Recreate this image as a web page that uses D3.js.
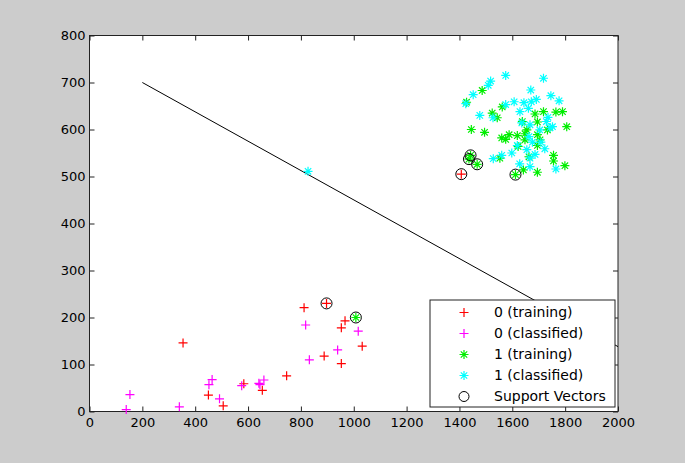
<!DOCTYPE html>
<html lang="en">
<head>
  <meta charset="UTF-8">
  <title>SVM classification</title>
  <style>
    html, body { margin: 0; padding: 0; background: #cccccc; }
    svg { display: block; }
    text { font-family: "DejaVu Sans", sans-serif; fill: #000; }
  </style>
</head>
<body>
  <script src="https://d3js.org/d3.v7.min.js"></script>
  <script>
    const width = 685, height = 463;

    // data
    const train0 = [[354,146],[450,35],[506,12],[584,59],[654,45],[746,76],[812,221],[897,230],
      [967,193],[953,178],[1032,139],[888,118],[953,102],[1407,505]];
    const class0 = [[153,36],[139,4],[340,10],[464,68],[452,57],[492,27],[576,55],[641,60],
      [660,67],[645,57],[818,184],[1017,171],[939,131],[832,110]];
    const train1 = [[1486,683],[1427,658],[1562,648],[1524,635],[1543,625],[1686,633],[1718,638],
      [1765,637],[1790,638],[1638,617],[1695,616],[1445,600],[1495,594],[1806,606],[1655,599],
      [1733,599],[1588,589],[1560,582],[1575,579],[1619,587],[1648,591],[1695,589],[1648,578],
      [1705,578],[1622,564],[1695,566],[1553,539],[1663,542],[1756,545],[1756,533],[1799,523],
      [1695,509],[1642,514],[1442,545],[1436,537],[1467,526],[1612,504],[1008,200]];
    const class1 = [[1575,715],[1718,709],[1518,703],[1509,694],[1452,674],[1670,684],[1424,655],
      [1746,672],[1777,661],[1607,659],[1644,657],[1672,659],[1691,664],[1575,653],[1661,645],
      [1629,638],[1477,630],[1527,625],[1636,614],[1735,626],[1729,617],[1667,610],[1743,604],
      [1752,606],[1704,599],[1663,585],[1676,573],[1708,573],[1619,566],[1723,559],[1655,557],
      [1598,550],[1686,547],[1560,545],[1528,538],[1667,539],[1628,527],[1667,521],[1765,516],
      [827,511]];
    const supportVectors = [[897,230],[1008,200],[1407,505],[1442,545],[1436,537],[1467,526],[1612,504]];
    const boundary = [[200,700],[2000,138]];

    const legendLabels = ["0 (training)", "0 (classified)", "1 (training)", "1 (classified)", "Support Vectors"];
    const xTicks = d3.range(0, 2001, 200);
    const yTicks = d3.range(0, 801, 100);

    const svg = d3.select("body").append("svg")
      .attr("width", width)
      .attr("height", height);

    const x = d3.scaleLinear().domain([0, 2000]).range([89.5, 618]);
    const y = d3.scaleLinear().domain([0, 800]).range([411.5, 35.5]);

    // plot area
    svg.append("rect")
      .attr("x", x(0)).attr("y", y(800))
      .attr("width", x(2000) - x(0)).attr("height", y(0) - y(800))
      .attr("fill", "#fff");

    // axes with inward ticks on all four sides
    const fmt = d3.format("d");
    const tickStyle = g => {
      g.select(".domain").remove();
      g.selectAll("line").attr("stroke", "#222");
      g.selectAll("text").attr("font-size", 13).attr("font-family", "DejaVu Sans, sans-serif").attr("fill", "#000");
    };
    svg.append("g").attr("transform", `translate(0,${y(0)})`)
      .call(d3.axisBottom(x).tickValues(xTicks).tickFormat(fmt).tickSize(-5).tickPadding(6)).call(tickStyle);
    svg.append("g").attr("transform", `translate(0,${y(800)})`)
      .call(d3.axisTop(x).tickValues(xTicks).tickSize(-5).tickFormat("")).call(tickStyle);
    svg.append("g").attr("transform", `translate(${x(0)},0)`)
      .call(d3.axisLeft(y).tickValues(yTicks).tickFormat(fmt).tickSize(-5).tickPadding(4)).call(tickStyle);
    svg.append("g").attr("transform", `translate(${x(2000)},0)`)
      .call(d3.axisRight(y).tickValues(yTicks).tickSize(-5).tickFormat("")).call(tickStyle);

    svg.append("rect")
      .attr("x", x(0)).attr("y", y(800))
      .attr("width", x(2000) - x(0)).attr("height", y(0) - y(800))
      .attr("fill", "none").attr("stroke", "#222").attr("stroke-width", 1);

    // decision boundary
    svg.append("path")
      .datum(boundary)
      .attr("d", d3.line().x(d => x(d[0])).y(d => y(d[1])))
      .attr("fill", "none").attr("stroke", "#000").attr("stroke-width", 1);

    const plusPath = "M-4.5,0H4.5M0,-4.5V4.5";
    const starPath = "M-4.5,0H4.5M0,-4.5V4.5M-3.2,-3.2L3.2,3.2M-3.2,3.2L3.2,-3.2";

    const series = [
      { data: train0, path: plusPath, color: "#ff0000" },
      { data: class0, path: plusPath, color: "#ff00ff" },
      { data: train1, path: starPath, color: "#00ee00" },
      { data: class1, path: starPath, color: "#00ffff" }
    ];

    series.forEach(s => {
      svg.append("g").selectAll("path")
        .data(s.data)
        .join("path")
        .attr("transform", d => `translate(${x(d[0])},${y(d[1])})`)
        .attr("d", s.path)
        .attr("fill", "none")
        .attr("stroke", s.color)
        .attr("stroke-width", 1.2);
    });

    svg.append("g").selectAll("circle")
      .data(supportVectors)
      .join("circle")
      .attr("cx", d => x(d[0]))
      .attr("cy", d => y(d[1]))
      .attr("r", 5.5)
      .attr("fill", "none")
      .attr("stroke", "#000")
      .attr("stroke-width", 1);

    // legend
    const lg = svg.append("g").attr("transform", "translate(430,300)");
    lg.append("rect")
      .attr("width", 185).attr("height", 107)
      .attr("fill", "#fff").attr("stroke", "#222").attr("stroke-width", 1);

    legendLabels.forEach((label, i) => {
      const row = lg.append("g").attr("transform", `translate(34,${12.5 + i * 21})`);
      if (i < 4) {
        row.append("path")
          .attr("d", series[i].path)
          .attr("fill", "none")
          .attr("stroke", series[i].color)
          .attr("stroke-width", 1.2);
      } else {
        row.append("circle").attr("r", 5)
          .attr("fill", "none").attr("stroke", "#000");
      }
      row.append("text")
        .attr("x", 30)
        .attr("dy", "0.35em")
        .attr("font-size", 14)
        .text(label);
    });
  </script>
</body>
</html>
